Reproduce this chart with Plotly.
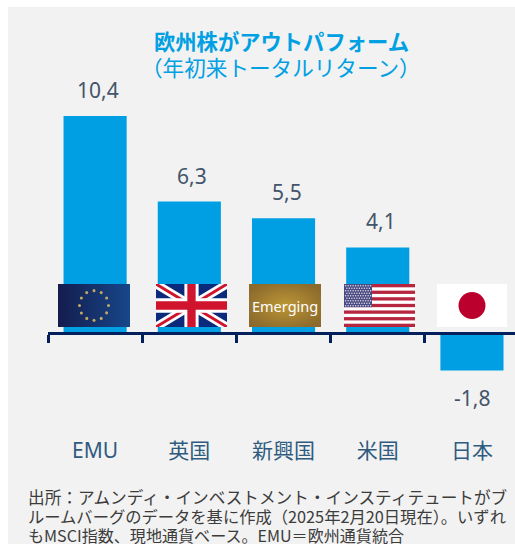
import base64
import math
import plotly.graph_objects as go

categories = ["EMU", "英国", "新興国", "米国", "日本"]
values = [10.4, 6.3, 5.5, 4.1, -1.8]
tick_edges = [-0.5, 0.5, 1.5, 2.5, 3.5]
title_lines = ["<b>欧州株がアウトパフォーム</b>", "（年初来トータルリターン）"]
source_lines = [
    "出所：アムンディ・インベストメント・インスティテュートがブ",
    "ルームバーグのデータを基に作成（2025年2月20日現在）。いずれ",
    "もMSCI指数、現地通貨ベース。EMU＝欧州通貨統合",
]

W, H = 515, 544
L, R, T, B = 48, 0, 70, 108
PW, PH = W - L - R, H - T - B
FONT = "Noto Sans, Noto Sans CJK JP, sans-serif"
CJK = "Noto Sans CJK JP, sans-serif"
BLUE = "#009fe3"
NAVY = "#04205c"


def px(x):
    return (x - L) / PW


def py(y):
    return 1 - (y - T) / PH


def uri(svg):
    return "data:image/svg+xml;base64," + base64.b64encode(svg.encode()).decode()


def eu_flag():
    dots = ""
    for i in range(12):
        a = math.radians(i * 30)
        dots += f'<circle cx="{36+14.5*math.sin(a):.1f}" cy="{21-14.5*math.cos(a):.1f}" r="1.5" fill="#c2a862"/>'
    return (
        '<svg xmlns="http://www.w3.org/2000/svg" width="72" height="43" viewBox="0 0 72 42" preserveAspectRatio="none">'
        '<defs><linearGradient id="g"><stop offset="0" stop-color="#141c4e"/><stop offset="1" stop-color="#17478a"/></linearGradient></defs>'
        f'<rect width="72" height="42" fill="url(#g)"/>{dots}</svg>'
    )


def uk_flag():
    return (
        '<svg xmlns="http://www.w3.org/2000/svg" width="71" height="43" viewBox="0 0 60 36" preserveAspectRatio="none">'
        '<rect width="60" height="36" fill="#0b2a7c"/>'
        '<path d="M0 0L60 36M60 0L0 36" stroke="#fff" stroke-width="7"/>'
        '<path d="M0 0L60 36M60 0L0 36" stroke="#d0142e" stroke-width="2.4"/>'
        '<path d="M30 0V36M0 18H60" stroke="#fff" stroke-width="12"/>'
        '<path d="M30 0V36M0 18H60" stroke="#d0142e" stroke-width="7"/></svg>'
    )


def us_flag():
    s = '<rect width="71" height="43" fill="#fff"/>'
    h = 43 / 13
    for i in range(0, 13, 2):
        s += f'<rect y="{i*h:.2f}" width="71" height="{h:.2f}" fill="#b7263f"/>'
    s += f'<rect width="28" height="{7*h:.2f}" fill="#4a4a82"/>'
    for r in range(9):
        for c in range(11 if r % 2 == 0 else 10):
            s += f'<circle cx="{1.6+c*2.5+(0 if r%2==0 else 1.25):.2f}" cy="{1.8+r*2.5:.2f}" r="0.75" fill="#ddddea"/>'
    return f'<svg xmlns="http://www.w3.org/2000/svg" width="71" height="43" viewBox="0 0 71 43">{s}</svg>'


def jp_flag():
    return (
        '<svg xmlns="http://www.w3.org/2000/svg" width="70" height="43" viewBox="0 0 70 43">'
        '<rect width="70" height="43" fill="#fff"/><circle cx="35" cy="21.5" r="13.5" fill="#bc002d"/></svg>'
    )


def em_flag():
    return (
        '<svg xmlns="http://www.w3.org/2000/svg" width="72" height="43" viewBox="0 0 72 43">'
        '<defs><radialGradient id="r" cx="0.5" cy="0.5" r="0.6"><stop offset="0" stop-color="#bd9636"/><stop offset="1" stop-color="#8b6a2c"/></radialGradient></defs>'
        '<rect width="72" height="43" fill="url(#r)"/></svg>'
    )


flags = [(58, 72, eu_flag()), (156, 71, uk_flag()), (249, 72, em_flag()), (344, 71, us_flag()), (437, 70, jp_flag())]

fig = go.Figure()
fig.add_trace(go.Bar(x=categories, y=values, marker=dict(color=BLUE, line=dict(width=0)),
                     width=0.67, hoverinfo="skip", showlegend=False))
# invisible carrier for the boundary-tick axis
fig.add_trace(go.Scatter(x=tick_edges, y=[0] * len(tick_edges), xaxis="x2", mode="lines",
                         line=dict(color=NAVY, width=0), opacity=0, hoverinfo="skip", showlegend=False))

px_per_unit = 20.87
y_max = (333 - T) / px_per_unit
y_min = -(T + PH - 333) / px_per_unit

annotations = []
for c, v in zip(categories, values):
    annotations.append(dict(x=c, y=v, xref="x", yref="y", text=f"{v}".replace(".", ","), showarrow=False,
                            yanchor="bottom" if v >= 0 else "top", yshift=10 if v >= 0 else -11,
                            xshift=3 if v >= 0 else 0,
                            font=dict(size=21, color="#44546a", family=FONT)))
annotations.append(dict(x=px(281), y=py(42), xref="paper", yref="paper", yanchor="middle", text=title_lines[0],
                        showarrow=False, font=dict(size=21.3, color="#00a0e3", family=FONT)))
annotations.append(dict(x=px(281), y=py(66), xref="paper", yref="paper", yanchor="middle", text=title_lines[1],
                        showarrow=False, font=dict(size=21.6, color="#00a0e3", family=CJK)))
annotations.append(dict(x=px(285), y=py(306), xref="paper", yref="paper", yanchor="middle", text="Emerging",
                        showarrow=False, font=dict(size=14.5, color="#ffffff", family=FONT)))
for line, y, size in zip(source_lines, [497, 516, 535], [16.65, 16.3, 16.07]):
    annotations.append(dict(x=px(26), y=py(y), xref="paper", yref="paper", yanchor="middle", text=line,
                            showarrow=False, xanchor="left", font=dict(size=size, color="#3c3c3c", family=CJK)))

images = [dict(source=uri(svg), xref="paper", yref="paper", x=px(x0), y=py(284), sizex=w / PW, sizey=43 / PH,
               xanchor="left", yanchor="top", sizing="stretch", layer="above")
          for x0, w, svg in flags]

fig.update_layout(
    width=W, height=H, autosize=False,
    margin=dict(l=L, r=R, t=T, b=B, pad=0),
    paper_bgcolor="#ffffff", plot_bgcolor="rgba(0,0,0,0)",
    font=dict(family=FONT),
    showlegend=False,
    bargap=0.33,
    annotations=annotations,
    images=images,
    shapes=[dict(type="rect", xref="paper", yref="paper", x0=px(8), x1=px(W + 2), y0=py(7), y1=py(H + 2),
                 fillcolor="#f2f2f2", line=dict(width=0), layer="below")],
    xaxis=dict(type="category", categoryorder="array", categoryarray=categories,
               range=[-0.5, 4.457], showgrid=False, showline=False, zeroline=False, ticks="",
               tickfont=dict(size=21, color="#2f5b80", family=FONT), ticklen=0),
    xaxis2=dict(overlaying="x", anchor="free", position=py(333), side="bottom", range=[-0.5, 4.457],
                showgrid=False, zeroline=False, showline=True, linecolor=NAVY, linewidth=3,
                ticks="outside", ticklen=8, tickwidth=3, tickcolor=NAVY,
                tickmode="array", tickvals=tick_edges, showticklabels=False),
    yaxis=dict(range=[y_min, y_max], visible=False, showgrid=False, zeroline=False),
)

fig.write_html("out.html", config={"displayModeBar": False},
               post_script="document.body.style.margin='0';document.body.style.overflow='hidden';")
